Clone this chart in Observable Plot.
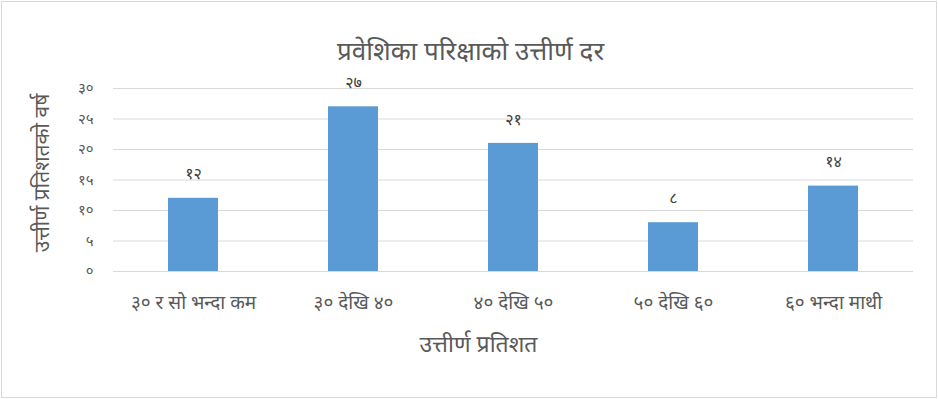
<!DOCTYPE html>
<html><head><meta charset="utf-8">
<script src="https://cdn.jsdelivr.net/npm/d3@7"></script>
<script src="https://cdn.jsdelivr.net/npm/@observablehq/plot@0.6"></script>
<style>
body{margin:0;background:#fff;}
#wrap{position:relative;width:938px;height:399px;}
#border{position:absolute;left:1px;top:1px;width:934px;height:395px;border:1px solid #d9d9d9;pointer-events:none;}
</style>
</head><body>
<div id="wrap"><div id="border"></div></div>
<script>
const categories = ["३० र सो भन्दा कम", "३० देखि ४०", "४० देखि ५०", "५० देखि ६०", "६० भन्दा माथी"];
const values = [12, 27, 21, 8, 14];
const yTicks = [0, 5, 10, 15, 20, 25, 30];
const title = "प्रवेशिका परिक्षाको उत्तीर्ण दर";
const xLabel = "उत्तीर्ण प्रतिशत";
const yLabel = "उत्तीर्ण प्रतिशतको वर्ष";

const devDigits = "०१२३४५६७८९";
const toDev = n => String(n).replace(/[0-9]/g, d => devDigits[+d]);
const data = categories.map((c, i) => ({cat: c, val: values[i]}));
const font = "'Noto Sans', 'Noto Sans Devanagari', sans-serif";

const chart = Plot.plot({
  width: 938, height: 399,
  marginLeft: 113, marginRight: 25, marginTop: 88, marginBottom: 128,
  style: {fontFamily: font, fontSize: "13px", color: "#595959", background: "transparent"},
  x: {domain: categories, paddingInner: 0.6875, paddingOuter: 0.34375, label: null, axis: null},
  y: {domain: [0, 30], ticks: yTicks, label: null, axis: null},
  marks: [
    Plot.gridY(yTicks, {stroke: "#d9d9d9", strokeOpacity: 1}),
    Plot.barY(data, {x: "cat", y: "val", fill: "#5b9bd5"}),
    Plot.text(data, {x: "cat", y: "val", text: d => toDev(d.val), dy: -24, fill: "#404040", fontSize: 16, letterSpacing: 1}),
    Plot.text(yTicks, {y: d => d, text: d => toDev(d), frameAnchor: "left", dx: -20, textAnchor: "end", fill: "#595959", fontSize: 15, letterSpacing: 1.5}),
    Plot.text(categories, {x: d => d, text: d => d, frameAnchor: "bottom", dy: 37, fill: "#595959", fontSize: 19, letterSpacing: 3}),
    Plot.text([xLabel], {text: d => d, frameAnchor: "bottom", dx: -35, dy: 80, fill: "#595959", fontSize: 23, letterSpacing: 1}),
    Plot.text([title], {text: d => d, frameAnchor: "top", dx: -43, dy: -47, fill: "#595959", fontSize: 26, letterSpacing: 3}),
    Plot.text([yLabel], {text: d => d, frameAnchor: "left", textAnchor: "middle", dx: -71, dy: -7, rotate: -90, fill: "#595959", fontSize: 21, letterSpacing: 1.5})
  ]
});
document.getElementById("wrap").prepend(chart);
</script>
</body></html>
